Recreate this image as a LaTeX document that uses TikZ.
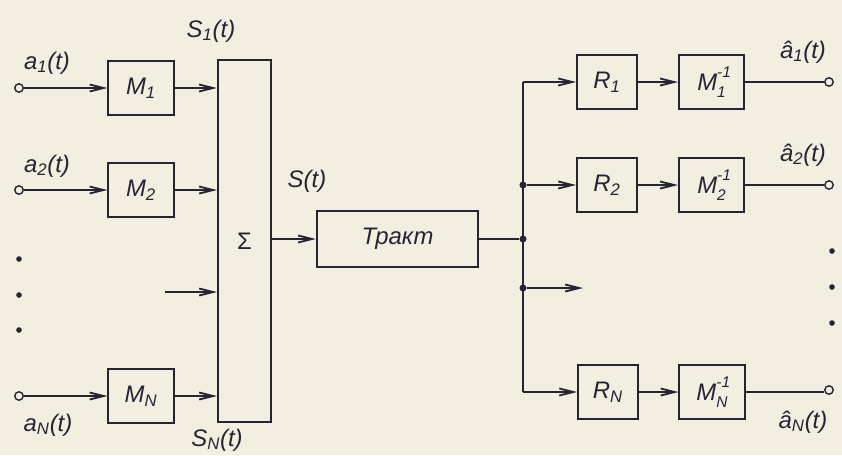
\documentclass[tikz,border=0pt]{standalone}
\usepackage{fontspec}
\setmainfont{Liberation Sans}
\usetikzlibrary{arrows.meta}
\usepackage{xcolor}

\definecolor{paper}{RGB}{242,238,224}
\definecolor{ink}{RGB}{38,36,52}

\newcommand{\scr}{\fontsize{11}{12}\selectfont}
\newcommand{\minv}[1]{M\rlap{\raisebox{1.05ex}{\scr -1}}\raisebox{-0.55ex}{\scr #1}}

\begin{document}
\begin{tikzpicture}[x=0.025cm, y=-0.025cm, line width=1.3pt, draw=ink, text=ink,
  font=\fontsize{17}{20}\selectfont\itshape,
  blk/.style={draw, minimum height=1.33cm, inner sep=0pt},
  arr/.style={-{Straight Barb[length=10pt,width=5pt]}},
  term/.style={draw, circle, inner sep=0pt, minimum size=6pt, line width=1pt, fill=paper},
  junc/.style={fill=ink, circle, inner sep=0pt, minimum size=5pt}]
\fill[paper] (0,0) rectangle (842,455);
\useasboundingbox (0,0) rectangle (842,455);

% transmitting side
\node[term] (in1) at (19,88) {};
\node[term] (in2) at (19,190) {};
\node[term] (inN) at (19,396) {};
\node[blk, minimum width=1.63cm] (M1) at (141,88) {M\textsubscript{1}};
\node[blk, minimum width=1.63cm] (M2) at (141,190) {M\textsubscript{2}};
\node[blk, minimum width=1.63cm] (MN) at (141,396) {M\textsubscript{N}};
\node[blk, minimum width=1.33cm, minimum height=9.05cm] (sum) at (244.5,241) {\upshape Σ};

\node (la1) at (47,63) {a\textsubscript{1}(t)};
\node (la2) at (47,166) {a\textsubscript{2}(t)};
\node (laN) at (48,425) {a\textsubscript{N}(t)};
\node (ls1) at (211,31) {S\textsubscript{1}(t)};
\node (lsN) at (217,440) {S\textsubscript{N}(t)};
\node (ls) at (307,181) {S(t)};

\draw[arr] (in1) -- (M1);
\draw[arr] (in2) -- (M2);
\draw[arr] (inN) -- (MN);
\draw[arr] (M1) -- (M1 -| sum.west);
\draw[arr] (M2) -- (M2 -| sum.west);
\draw[arr] (MN) -- (MN -| sum.west);
\coordinate (ex) at (165,292);
\draw[arr] (ex) -- (ex -| sum.west);

\foreach \y in {259,295,330} {
  \node[junc, minimum size=4pt] at (19,\y) {};
}

% channel
\node[blk, minimum width=4.03cm, minimum height=1.4cm] (tr) at (397.5,239) {Тракт};
\draw[arr] (sum.east |- tr) -- (tr);

% receiving side
\coordinate (b1) at (523,82);
\coordinate (bN) at (523,392);
\node[junc] (j2) at (523,185) {};
\node[junc] (jt) at (523,239) {};
\node[junc] (jx) at (523,288) {};
\coordinate (jxe) at (583,288);
\draw (tr) -- (jt);
\draw (b1) -- (bN);
\draw[arr] (jx) -- (jxe);

\node[blk, minimum width=1.5cm] (R1) at (607,82) {R\textsubscript{1}};
\node[blk, minimum width=1.5cm] (R2) at (607,185) {R\textsubscript{2}};
\node[blk, minimum width=1.5cm] (RN) at (608,392) {R\textsubscript{N}};
\node[blk, minimum width=1.63cm] (Mi1) at (711.5,82) {\minv{1}};
\node[blk, minimum width=1.63cm] (Mi2) at (711.5,185) {\minv{2}};
\node[blk, minimum width=1.63cm] (MiN) at (712,392) {\minv{N}};
\node[term] (out1) at (829,82) {};
\node[term] (out2) at (829,185) {};
\node[term] (outN) at (829,390) {};

\draw[arr] (b1) -- (R1);
\draw[arr] (j2) -- (R2);
\draw[arr] (bN) -- (RN);
\draw[arr] (R1) -- (Mi1);
\draw[arr] (R2) -- (Mi2);
\draw[arr] (RN) -- (MiN);
\draw (Mi1) -- (out1);
\draw (Mi2) -- (out2);
\draw (MiN) -- (MiN -| outN.west);

\node (lo1) at (803,52) {\^{a}\textsubscript{1}(t)};
\node (lo2) at (803,155) {\^{a}\textsubscript{2}(t)};
\node (loN) at (803,422) {\^{a}\textsubscript{N}(t)};

\foreach \y in {251,287,323} {
  \node[junc, minimum size=4pt] at (832,\y) {};
}
\end{tikzpicture}
\end{document}
